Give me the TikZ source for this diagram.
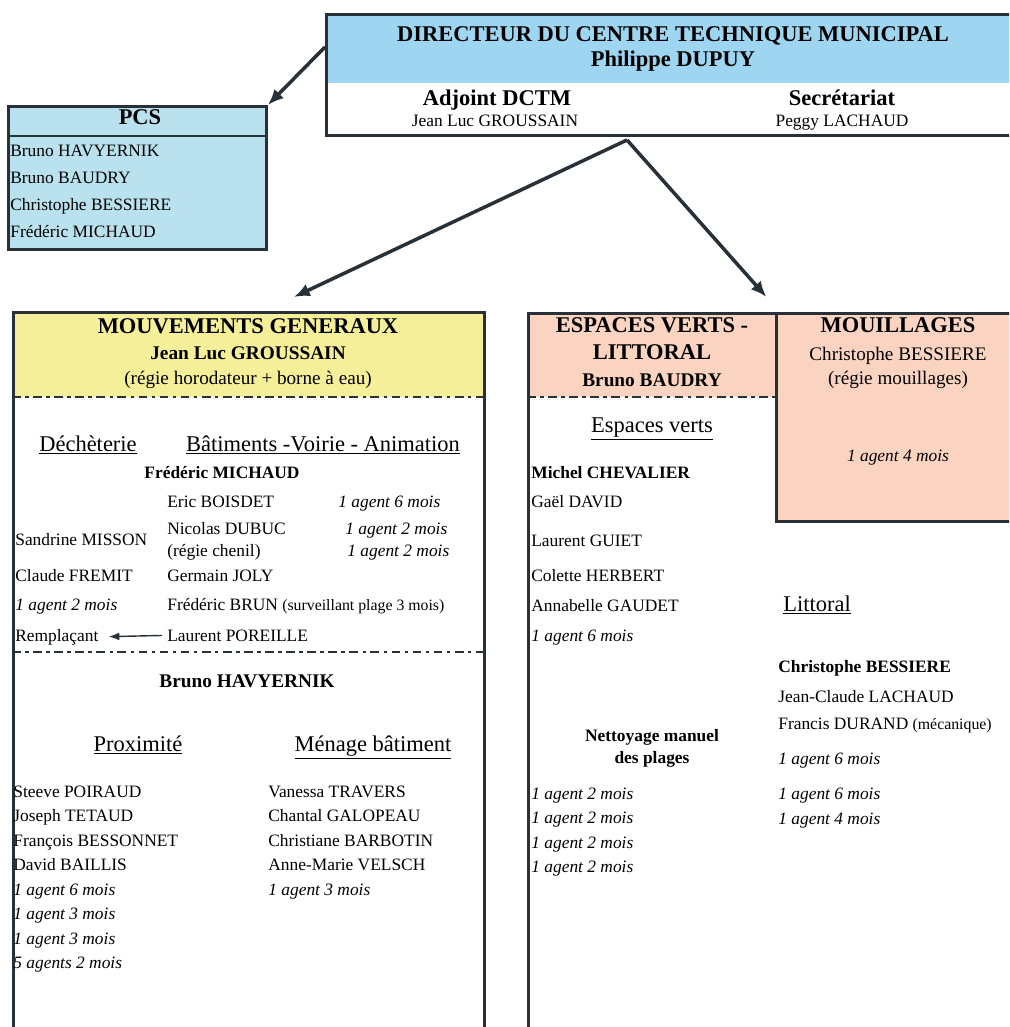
\documentclass[tikz,border=0pt]{standalone}
\usepackage{fontspec}
\setmainfont{Liberation Serif}
\usetikzlibrary{positioning, arrows.meta, calc}

\definecolor{dirblue}{RGB}{158,214,242}
\definecolor{pcsblue}{RGB}{186,226,238}
\definecolor{mvtyellow}{RGB}{244,239,152}
\definecolor{evsalmon}{RGB}{250,212,192}
\definecolor{boxline}{RGB}{40,48,56}

\begin{document}
\begin{tikzpicture}[x=0.02cm, y=-0.02cm, >={Latex[length=9pt,width=7.5pt]},
	box/.style={draw=boxline, line width=1.7pt, inner sep=0pt, anchor=north west},
	sepline/.style={draw=boxline, line width=0.9pt, dash pattern=on 5pt off 2.5pt on 2pt off 2.5pt},
	link/.style={->, draw=boxline, line width=2pt},
	nm/.style={inner sep=0pt, anchor=mid west, font=\fontsize{9.9}{12}\selectfont},
	nmb/.style={nm, font=\fontsize{9.9}{12}\selectfont\bfseries},
	ag/.style={nm, font=\fontsize{9.9}{12}\selectfont\itshape},
	ttl/.style={inner sep=0pt, anchor=mid, font=\fontsize{12.8}{15}\selectfont\bfseries},
	subb/.style={inner sep=0pt, anchor=mid, font=\fontsize{11}{13}\selectfont\bfseries},
	subr/.style={inner sep=0pt, anchor=mid, font=\fontsize{10.9}{13}\selectfont},
	hd/.style={inner sep=0pt, anchor=mid, font=\fontsize{12.8}{15}\selectfont},
	small/.style={font=\fontsize{9}{11}\selectfont}]
	\useasboundingbox (0,0) rectangle (1009,1027);
	\clip (0,0) rectangle (1009,1027);

	% fonds colores
	\fill[dirblue] (325,13) rectangle (1045,83);
	\fill[mvtyellow] (12,311) rectangle (483,397);
	\fill[evsalmon] (527,312) rectangle (775,397);

	% cadres
	\node[box] (dir) at (325,13) [minimum width=14.4cm, minimum height=2.42cm] {};
	\node[box, fill=pcsblue] (pcs) at (7,105) [minimum width=5.16cm, minimum height=2.86cm] {};
	\node[box] (mvt) at (12,311) [minimum width=9.42cm, minimum height=14.8cm] {};
	\node[box] (ev) at (527,312) [minimum width=10.4cm, minimum height=14.8cm] {};
	\node[box, fill=evsalmon] (mou) at (775,312) [minimum width=5.4cm, minimum height=4.16cm] {};
	\draw[boxline, line width=1.2pt] (7,136) -- (265,136);
	\draw[sepline] (12,397) -- (483,397);
	\draw[sepline] (12,652) -- (483,652);
	\draw[sepline] (527,397) -- (775,397);

	% liens
	\coordinate (split) at (627,140);
	\draw[link] ([yshift=-0.68cm]dir.north west) -- (pcs.north east);
	\draw[link] (split) -- ($(mvt.north)+(45,-14)$);
	\draw[link] (split) -- ($(ev.north)+(-22,-15)$);

	% direction
	\node[ttl] (dirT) at (673,37) {DIRECTEUR DU CENTRE TECHNIQUE MUNICIPAL};
	\node[ttl] (dirN) at (673,62) {Philippe DUPUY};
	\node[ttl] (adj) at (497,101) {Adjoint DCTM};
	\node[nm, anchor=mid] (adjN) at (495,122) {Jean Luc GROUSSAIN};
	\node[ttl] (sec) at (842,101) {Secrétariat};
	\node[nm, anchor=mid] (secN) at (842,122) {Peggy LACHAUD};

	% PCS
	\node[ttl] (pcsT) at (140,120) {PCS};
	\foreach \who [count=\i] in {Bruno HAVYERNIK, Bruno BAUDRY, Christophe BESSIERE, Frédéric MICHAUD}
		\node[nm] (pcs\i) at (10, {152+27*(\i-1)}) {\who};

	% mouvements generaux
	\node[ttl] (mvtT) at (248,329) {MOUVEMENTS GENERAUX};
	\node[subb] (mvtN) at (248,355) {Jean Luc GROUSSAIN};
	\node[subr] (mvtR) at (248,380) {(régie horodateur + borne à eau)};
	\node[hd] (dech) at (88,447) {\underline{Déchèterie}};
	\node[hd] (bat) at (323,447) {\underline{Bâtiments -Voirie - Animation}};
	\node[nmb, anchor=mid] (fm) at (222,474) {Frédéric MICHAUD};
	\node[nm] (eb) at (167,503) {Eric BOISDET};
	\node[ag] (ag1) at (338,503) {1 agent 6 mois};
	\node[nm] (nd) at (167,530) {Nicolas DUBUC};
	\node[ag] (ag2) at (345,530) {1 agent 2 mois};
	\node[nm] (rc) at (167,552) {(régie chenil)};
	\node[ag] (ag3) at (347,552) {1 agent 2 mois};
	\node[nm] (sm) at (15,541) {Sandrine MISSON};
	\node[nm] (cf) at (15,577) {Claude FREMIT};
	\node[nm] (gj) at (167,577) {Germain JOLY};
	\node[ag] (ag4) at (15,606) {1 agent 2 mois};
	\node[nm] (fb) at (167,606) {Frédéric BRUN {\small(surveillant plage 3 mois)}};
	\node[nm] (rp) at (15,637) {Remplaçant};
	\node[nm] (lp) at (167,637) {Laurent POREILLE};
	\draw[->, boxline, line width=0.8pt, >={Latex[length=6pt,width=4.5pt]}, shorten <=0.1cm, shorten >=0.2cm] (lp.west) -- (rp.east);
	\node[subb] (bh) at (247,683) {Bruno HAVYERNIK};
	\node[hd] (prox) at (138,747) {\underline{Proximité}};
	\node[hd] (men) at (373,747) {\underline{Ménage bâtiment}};
	\foreach \who [count=\i] in {Steeve POIRAUD, Joseph TETAUD, François BESSONNET, David BAILLIS}
		\node[nm] (px\i) at (13, {793+24.5*(\i-1)}) {\who};
	\foreach \who [count=\i] in {1 agent 6 mois, 1 agent 3 mois, 1 agent 3 mois, 5 agents 2 mois}
		\node[ag] (pxa\i) at (13, {891+24.5*(\i-1)}) {\who};
	\foreach \who [count=\i] in {Vanessa TRAVERS, Chantal GALOPEAU, Christiane BARBOTIN, Anne-Marie VELSCH}
		\node[nm] (mb\i) at (268, {793+24.5*(\i-1)}) {\who};
	\node[ag] (mba) at (268,891) {1 agent 3 mois};

	% espaces verts - littoral
	\node[ttl] (evT1) at (652,328) {ESPACES VERTS -};
	\node[ttl] (evT2) at (652,355) {LITTORAL};
	\node[subb] (evN) at (652,382) {Bruno BAUDRY};
	\node[hd] (evH) at (652,428) {\underline{Espaces verts}};
	\node[nmb] (mc) at (531,474) {Michel CHEVALIER};
	\foreach \who/\y [count=\i] in {Gaël DAVID/503, Laurent GUIET/542, Colette HERBERT/577, Annabelle GAUDET/607}
		\node[nm] (ev\i) at (531,\y) {\who};
	\node[ag] (eva) at (531,637) {1 agent 6 mois};
	\node[nmb, anchor=mid] (net1) at (652,737) {Nettoyage manuel};
	\node[nmb, anchor=mid] (net2) at (652,759) {des plages};
	\foreach \i in {1,...,4}
		\node[ag] (neta\i) at (531, {795+24.6*(\i-1)}) {1 agent 2 mois};
	\node[hd, anchor=mid west] (litH) at (783,607) {\underline{Littoral}};
	\node[nmb] (cb) at (778,668) {Christophe BESSIERE};
	\node[nm] (jcl) at (778,698) {Jean-Claude LACHAUD};
	\node[nm] (fd) at (778,725) {Francis DURAND {\small(mécanique)}};
	\node[ag] (lia1) at (778,760) {1 agent 6 mois};
	\node[ag] (lia2) at (778,795) {1 agent 6 mois};
	\node[ag] (lia3) at (778,820) {1 agent 4 mois};

	% mouillages
	\node[ttl] (mouT) at (898,328) {MOUILLAGES};
	\node[subr] (mouN) at (898,356) {Christophe BESSIERE};
	\node[subr] (mouR) at (898,380) {(régie mouillages)};
	\node[ag, anchor=mid] (mouA) at (898,457) {1 agent 4 mois};
\end{tikzpicture}
\end{document}
